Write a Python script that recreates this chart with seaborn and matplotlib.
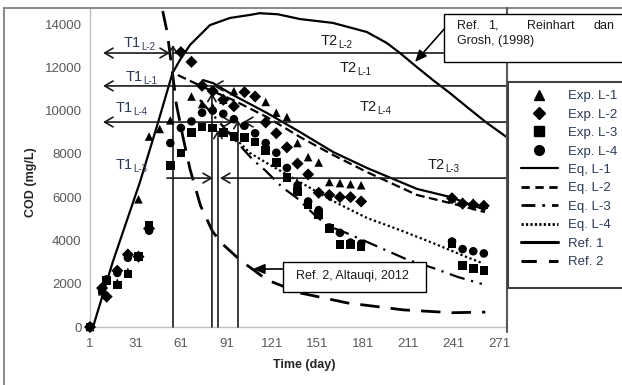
import matplotlib
matplotlib.use("Agg")
import matplotlib.pyplot as plt
from matplotlib.lines import Line2D
from matplotlib.patches import Rectangle
import pandas as pd
import seaborn as sns

# ---- experimental points (day, COD mg/L) ----
days_l1 = [1, 9, 19, 26, 33, 40, 47, 54, 68, 75, 82, 89, 96, 117, 124, 131, 138, 145, 152,
           159, 166, 173, 180, 240, 247, 254, 261]
cod_l1 = [0, 1650, 2050, 2550, 5900, 8800, 9150, 9550, 10650, 10300, 10150, 10500, 10900, 10400,
          9900, 9700, 8500, 7850, 7600, 6700, 6650, 6600, 6550, 5950, 5800, 5750, 5650]

days_l2 = [1, 9, 12, 19, 26, 33, 40, 61, 68, 75, 82, 89, 96, 103, 110, 117, 124, 131, 138,
           145, 152, 159, 166, 173, 180, 240, 247, 254, 261]
cod_l2 = [0, 1800, 1400, 2600, 3350, 3250, 4550, 12700, 12250, 11150, 10900, 10500, 10200, 10850,
          10650, 9450, 8950, 8300, 7550, 7050, 6200, 6100, 6000, 6000, 5800, 5950, 5700, 5650, 5600]

days_l3 = [1, 9, 12, 19, 26, 33, 40, 54, 61, 68, 75, 82, 89, 96, 103, 110, 117, 124, 131,
           138, 145, 152, 159, 166, 173, 180, 240, 247, 254, 261]
cod_l3 = [0, 1700, 2150, 1950, 2450, 3250, 4700, 7450, 8050, 9000, 9250, 9200, 9000, 8800, 8750,
          8550, 8150, 7600, 6900, 6250, 5650, 5200, 4550, 3800, 3800, 3700, 3850, 2850, 2700, 2600]

days_l4 = [1, 9, 12, 19, 26, 33, 40, 54, 61, 68, 75, 82, 89, 96, 103, 110, 117, 124, 131,
           138, 145, 152, 159, 166, 173, 180, 240, 247, 254, 261]
cod_l4 = [0, 1750, 2200, 2500, 3200, 3250, 4450, 8500, 9200, 9500, 9900, 10000, 9850, 9600, 9300,
          8950, 8500, 8050, 7350, 6550, 5800, 5400, 4600, 4350, 3900, 3850, 3950, 3600, 3500, 3400]

# ---- model / reference curves ----
eq1_day = [75.6, 82.2, 95.4, 117.8, 139.6, 161.4, 183.8, 216.9, 238.6, 260.4]
eq1_cod = [11410, 11270, 10720, 9890, 9010, 8090, 7350, 6380, 6010, 5450]
eq2_day = [59, 75.6, 95.4, 117.8, 139.6, 161.4, 183.8, 216.9, 238.6, 261.7]
eq2_cod = [11640, 11090, 10490, 9700, 8780, 7950, 7160, 6100, 5730, 5310]
eq3_day = [73.6, 82.2, 96.7, 108.6, 116.5, 127.7, 137.6, 150.8, 159, 170, 181, 210.9, 227.4, 243.9, 259.7]
eq3_cod = [10490, 9800, 8640, 7720, 7250, 6470, 5960, 5080, 4650, 4350, 4020, 3100, 2730, 2310, 1990]
eq4_day = [88.1, 106.6, 119.8, 139.6, 161.4, 183.8, 205.6, 227.4, 249.8, 259.7]
eq4_cod = [9330, 8040, 7490, 6700, 5820, 5040, 4480, 3880, 3230, 2960]
ref1_day = [3, 16, 34, 46, 55.5, 60.4, 67, 73.6, 80.2, 93.4, 106.6, 113, 125, 139.6, 161.4,
            183.8, 197, 205.6, 216.8, 227.4, 238.6, 249.8, 263, 276]
ref1_cod = [0, 3000, 6700, 9470, 11740, 12340, 13030, 13490, 13950, 14280, 14420, 14500, 14450,
            14230, 14050, 13630, 13120, 12660, 12010, 11410, 10810, 10170, 9430, 8780]
ref2_day = [49, 52, 55, 58, 62, 67, 74, 82, 89, 100, 118, 140, 171, 208, 240, 262]
ref2_cod = [14600, 13600, 12000, 10300, 8900, 7300, 5600, 4400, 3800, 3100, 2170, 1570, 1110, 790, 660, 690]

# ---- T1 / T2 guide lines ----
t_levels = {"L-2": 12660, "L-1": 11140, "L-4": 9470, "L-3": 6880}
v_days = [55.8, 81.5, 85.5, 98.7]
v_tops = [13030, 10810, 9100, 9560]

W, H = 622, 385
XMAX = 276.3
sns.set_style("white")
plt.rcParams['font.family'] = ['Liberation Sans', 'DejaVu Sans']

fig = plt.figure(figsize=(W / 100, H / 100), dpi=100)
ax = fig.add_axes([90 / W, 1 - 327 / H, (507 - 90) / W, (327 - 8) / H])


def fp(px, py):
    return px / W, 1 - py / H


exp = pd.concat([
    pd.DataFrame({"day": days_l1, "cod": cod_l1, "series": "Exp. L-1"}),
    pd.DataFrame({"day": days_l2, "cod": cod_l2, "series": "Exp. L-2"}),
    pd.DataFrame({"day": days_l3, "cod": cod_l3, "series": "Exp. L-3"}),
    pd.DataFrame({"day": days_l4, "cod": cod_l4, "series": "Exp. L-4"}),
])
mk = {"Exp. L-1": "^", "Exp. L-2": "D", "Exp. L-3": "s", "Exp. L-4": "o"}

ink = "black"
guide = "#1a1a1a"

# curves
sns.lineplot(x=ref1_day, y=ref1_cod, ax=ax, color=ink, lw=1.6, zorder=3)
sns.lineplot(x=ref2_day, y=ref2_cod, ax=ax, color=ink, lw=2.0, linestyle=(0, (7, 4)), zorder=3)
sns.lineplot(x=eq1_day, y=eq1_cod, ax=ax, color=ink, lw=1.6, zorder=3)
sns.lineplot(x=eq2_day, y=eq2_cod, ax=ax, color=ink, lw=1.6, linestyle=(0, (4, 2)), zorder=3)
sns.lineplot(x=eq3_day, y=eq3_cod, ax=ax, color=ink, lw=1.6, linestyle=(0, (7, 3, 1, 3)), zorder=3)
sns.lineplot(x=eq4_day, y=eq4_cod, ax=ax, color=ink, lw=1.6, linestyle=(0, (1, 1.2)), zorder=3)

# experimental markers
sns.scatterplot(data=exp, x="day", y="cod", style="series", markers=mk, color=ink, s=38,
                linewidth=0, legend=False, ax=ax, zorder=5, clip_on=False)

# T1/T2 arrows
ap = dict(lw=1.2, color=guide, shrinkA=0, shrinkB=0, mutation_scale=10)


def arrow(x0, x1, y, style):
    ax.annotate("", xy=(x1, y), xytext=(x0, y),
                arrowprops=dict(arrowstyle=style + ",head_length=0.6,head_width=0.35", **ap))


y = t_levels["L-2"]
arrow(9.6, 53.8, y, "<->")
ax.plot([55.8, XMAX], [y, y], color=guide, lw=1.2)
y = t_levels["L-1"]
arrow(55.8, 9.6, y, "->")
arrow(XMAX, 82.2, y, "->")
ax.plot([55.8, 82.2], [y, y], color=guide, lw=1.2)
y = t_levels["L-4"]
arrow(9.6, 95.4, y, "<->")
arrow(XMAX, 102, y, "->")
y = t_levels["L-3"]
arrow(51.8, 82.2, y, "->")
arrow(XMAX, 86.8, y, "->")

for d, top in zip(v_days, v_tops):
    ax.annotate("", xy=(d, top), xytext=(d, 0),
                arrowprops=dict(arrowstyle="->,head_length=0.5,head_width=0.3", **ap))

# T labels
tcol = "#2b3a55"
t1_pos = {"L-2": (34.7, 13120), "L-1": (36, 11550), "L-4": (29.4, 10120), "L-3": (29.4, 7490)}
t2_pos = {"L-2": (164.7, 13210), "L-1": (177.2, 11970), "L-4": (190.4, 10160), "L-3": (235.3, 7490)}
for name, pos, col in [("T1", t1_pos, tcol), ("T2", t2_pos, "#1a1a1a")]:
    for sub, (xx, yy) in pos.items():
        ax.text(xx, yy, name, ha="right", va="center", fontsize=10.5, color=col, zorder=6)
        ax.annotate(sub, xy=(xx, yy), xytext=(0.5, -3), textcoords="offset points",
                    ha="left", va="center", fontsize=7, color=col, zorder=6)

ax.set_xlim(1, XMAX)
ax.set_ylim(0, 14740)
ax.set_xticks(range(1, 272, 30))
ax.set_yticks(range(0, 14001, 2000))
ax.tick_params(axis="both", direction="out", length=3, color="#BFBFBF", labelcolor="#595959",
               labelsize=9.5)
ax.tick_params(axis="x", pad=5)
ax.tick_params(axis="y", pad=3)
for s in ["top", "right"]:
    ax.spines[s].set_visible(False)
for s in ["left", "bottom"]:
    ax.spines[s].set_color("#BFBFBF")
    ax.spines[s].set_linewidth(1)
ax.set_xlabel("")
ax.set_ylabel("")

fig.text(*fp(304, 365), "Time (day)", ha="center", va="center", fontsize=9, fontweight="bold",
         color="#262626")
fig.text(*fp(31, 182), "COD (mg/L)", ha="center", va="center", fontsize=9, fontweight="bold",
         rotation=90, color="#262626")

# frame lines
frame = "#7F7F7F"
fig.add_artist(Line2D([4 / W, 1], [1 - 8 / H] * 2, color=frame, lw=1.3))
fig.add_artist(Line2D([4 / W] * 2, [0, 1 - 8 / H], color=frame, lw=1.3))
fig.add_artist(Line2D([507 / W] * 2, [1 - 332 / H, 1 - 8 / H], color="#595959", lw=1.5))

# callout Ref 1
fig.add_artist(Rectangle(fp(444, 62), 200 / W, 48 / H, facecolor="white", edgecolor="black",
                         lw=1, zorder=4))
for word, px in [("Ref.", 457), ("1,", 488), ("Reinhart", 527), ("dan", 593)]:
    fig.text(*fp(px, 26), word, ha="left", va="center", fontsize=9, color="#1a1a1a", zorder=5)
fig.text(*fp(457, 41), "Grosh, (1998)", ha="left", va="center", fontsize=9, color="#1a1a1a", zorder=5)
ax.annotate("", xy=(415, H - 62), xycoords="figure pixels", xytext=(446, H - 27),
            textcoords="figure pixels",
            arrowprops=dict(arrowstyle="-|>,head_length=0.7,head_width=0.3", lw=1.2, color="black",
                            shrinkA=0, shrinkB=0, mutation_scale=10), zorder=6)

# callout Ref 2
fig.add_artist(Rectangle(fp(283, 292), 143 / W, 30 / H, facecolor="white", edgecolor="black",
                         lw=1, zorder=4))
fig.text(*fp(296, 276), "Ref. 2, Altauqi, 2012", ha="left", va="center", fontsize=9,
         color="#1a1a1a", zorder=5)
ax.annotate("", xy=(253, H - 269), xycoords="figure pixels", xytext=(283, H - 269),
            textcoords="figure pixels",
            arrowprops=dict(arrowstyle="-|>,head_length=0.7,head_width=0.3", lw=1.2, color="black",
                            shrinkA=0, shrinkB=0, mutation_scale=10), zorder=6)

# legend
fig.add_artist(Rectangle(fp(508, 288), 140 / W, 206 / H, facecolor="white", edgecolor="#404040",
                         lw=1.5, zorder=4))
handles = [
    Line2D([], [], ls="none", marker="^", color=ink, ms=7),
    Line2D([], [], ls="none", marker="D", color=ink, ms=6),
    Line2D([], [], ls="none", marker="s", color=ink, ms=6.5),
    Line2D([], [], ls="none", marker="o", color=ink, ms=7),
    Line2D([], [], color=ink, lw=1.6),
    Line2D([], [], color=ink, lw=2, ls=(0, (3, 2))),
    Line2D([], [], color=ink, lw=2, ls=(0, (5, 2.5, 1, 2.5))),
    Line2D([], [], color=ink, lw=2, ls=(0, (0.8, 0.8))),
    Line2D([], [], color=ink, lw=2.2),
    Line2D([], [], color=ink, lw=2.2, ls=(0, (5, 4))),
]
labels = ["Exp. L-1", "Exp. L-2", "Exp. L-3", "Exp. L-4", "Eq, L-1", "Eq. L-2", "Eq. L-3",
          "Eq. L-4", "Ref. 1", "Ref. 2"]
leg = fig.legend(handles, labels, loc="upper left", bbox_to_anchor=fp(521, 90), frameon=False,
                 fontsize=9.5, handlelength=2.8, handletextpad=0.8, labelspacing=0.47,
                 borderpad=0, borderaxespad=0)
leg.set_zorder(6)
for t in leg.get_texts():
    t.set_color(tcol)

fig.savefig("out.png", dpi=100)
